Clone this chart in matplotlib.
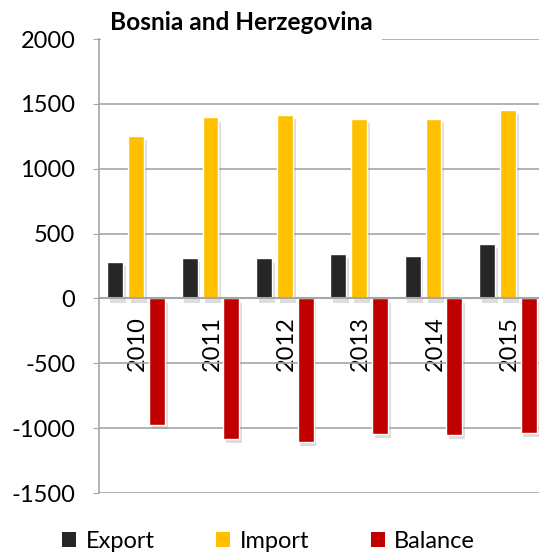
import matplotlib
matplotlib.use("Agg")
import matplotlib.pyplot as plt
import matplotlib.patheffects as pe
from matplotlib.patches import Patch, Rectangle
import numpy as np

years = ["2010", "2011", "2012", "2013", "2014", "2015"]
export = [280, 312, 308, 341, 330, 420]
imports = [1255, 1395, 1415, 1385, 1385, 1454]
balance = [-975, -1083, -1107, -1044, -1055, -1034]

COLORS = {"Export": "#262626", "Import": "#ffc000", "Balance": "#c00000"}

plt.rcParams["font.family"] = ["Lato", "DejaVu Sans"]
plt.rcParams["axes.unicode_minus"] = False

W, H = 539, 554
fig = plt.figure(figsize=(W / 100, H / 100), dpi=100)
ax = fig.add_axes([99 / W, 1 - 493 / H, 446 / W, (493 - 39) / H])

x = np.arange(len(years))
bw = 0.215
off = 0.28
shadow = [pe.SimplePatchShadow(offset=(2, -3), shadow_rgbFace="#909090", alpha=0.3), pe.Normal()]
for vals, name, dx in [(export, "Export", -off), (imports, "Import", 0.0), (balance, "Balance", off)]:
    bars = ax.bar(x + dx, vals, bw, color=COLORS[name], edgecolor="white", linewidth=1.0, zorder=3)
    for b in bars:
        b.set_path_effects(shadow)

ax.set_xlim(-0.5, 5.5)
ax.set_ylim(-1500, 2000)
ax.set_yticks(range(-1500, 2001, 500))
ax.yaxis.grid(True, color="#a6a6a6", linewidth=1.2, zorder=0)
ax.set_axisbelow(True)

for s in ("top", "right"):
    ax.spines[s].set_visible(False)
ax.spines["left"].set_color("#a6a6a6")
ax.spines["left"].set_linewidth(1.2)
ax.spines["bottom"].set_position(("data", 0))
ax.spines["bottom"].set_color("#a6a6a6")
ax.spines["bottom"].set_linewidth(1.5)
ax.spines["bottom"].set_zorder(4)

ax.set_xticks(x + 0.02)
ax.set_xticklabels(years, rotation=90, va="top", ha="center", fontsize=17)
ax.tick_params(axis="x", length=0, pad=13)
ax.tick_params(axis="y", length=4, color="#a6a6a6", labelsize=17, pad=13)

# title box covering the top-left gridline
fig.patches.append(Rectangle((101 / W, 1 - 41 / H), (382 - 101) / W, 41 / H,
                             transform=fig.transFigure, facecolor="white", edgecolor="none", zorder=5))
fig.text(110 / W, 1 - 22 / H, "Bosnia and Herzegovina", fontsize=17.6, fontweight="bold",
         ha="left", va="center", zorder=6)

handles = [Patch(facecolor=COLORS[n], edgecolor="none", label=n) for n in ("Export", "Import", "Balance")]
fig.legend(handles=handles, loc="center left", bbox_to_anchor=(62 / W, 1 - 541 / H), ncol=3, frameon=False,
           fontsize=17, handlelength=0.6, handleheight=0.6, handletextpad=0.4, columnspacing=2.6,
           borderaxespad=0, borderpad=0)

fig.savefig("out.png", dpi=100)
